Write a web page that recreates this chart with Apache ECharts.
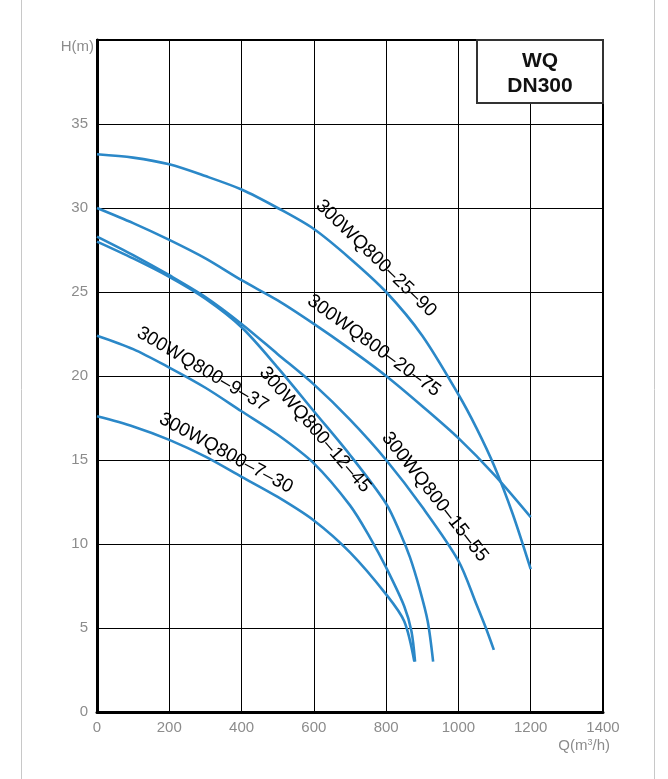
<!DOCTYPE html>
<html><head><meta charset="utf-8">
<script src="https://cdn.jsdelivr.net/npm/echarts@6/dist/echarts.min.js"></script>
<style>html,body{margin:0;padding:0;background:#fff}#c{width:668px;height:779px}</style>
</head><body><div id="c"></div>
<script>
// ---- data ----
const xTicks = [0, 200, 400, 600, 800, 1000, 1200, 1400];
const yTicks = [0, 5, 10, 15, 20, 25, 30, 35];

const names = ['300WQ800–25–90', '300WQ800–20–75', '300WQ800–15–55', '300WQ800–12–45', '300WQ800–9–37', '300WQ800–7–30'];

const q_25_90 = [0, 100, 200, 300, 400, 500, 600, 700, 800, 900, 1000, 1050, 1100, 1150, 1200];
const h_25_90 = [33.2, 33.0, 32.6, 31.9, 31.1, 30.0, 28.75, 27.0, 25.0, 22.4, 18.9, 16.9, 14.6, 11.8, 8.5];

const q_20_75 = [0, 100, 200, 300, 400, 500, 600, 700, 800, 900, 1000, 1100, 1200];
const h_20_75 = [30.0, 29.1, 28.1, 27.0, 25.7, 24.5, 23.1, 21.6, 20.0, 18.2, 16.3, 14.1, 11.6];

const q_15_55 = [0, 100, 200, 300, 400, 500, 600, 700, 800, 900, 1000, 1050, 1076, 1098];
const h_15_55 = [28.3, 27.2, 26.0, 24.7, 23.1, 21.3, 19.5, 17.4, 15.0, 12.2, 9.0, 6.4, 5.0, 3.7];

const q_12_45 = [0, 100, 200, 300, 400, 500, 600, 700, 800, 840, 866, 893, 915, 930];
const h_12_45 = [28.0, 27.0, 25.9, 24.6, 22.9, 20.5, 17.9, 15.3, 12.4, 10.6, 9.2, 7.3, 5.4, 3.0];

const q_9_37 = [0, 100, 200, 300, 400, 500, 600, 700, 755, 800, 850, 870, 880];
const h_9_37 = [22.4, 21.6, 20.5, 19.3, 17.9, 16.5, 14.8, 12.3, 10.4, 8.6, 6.3, 4.8, 3.0];

const q_7_30 = [0, 100, 200, 300, 400, 500, 600, 700, 800, 850, 878];
const h_7_30 = [17.6, 17.0, 16.2, 15.2, 14.0, 12.8, 11.4, 9.5, 7.0, 5.4, 3.0];

// label anchors [Q, H] and angle (deg)
const labelAnchors = [[772, 27.0], [766, 21.8], [935, 12.8], [603, 16.8], [292, 20.4], [357, 15.4]];
const labelAngles = [44, 36, 51.6, 49, 30.5, 28.5];

const curves = [[q_25_90, h_25_90], [q_20_75, h_20_75], [q_15_55, h_15_55], [q_12_45, h_12_45], [q_9_37, h_9_37], [q_7_30, h_7_30]];

// ---- chart ----
const chart = echarts.init(document.getElementById('c'));
const gray = '#8c8c8c';
const font = 'Liberation Sans, Arial, sans-serif';

chart.setOption({
  animation: false,
  grid: { left: 97, right: 65, top: 40, bottom: 67, show: true, borderColor: '#000', borderWidth: 2, backgroundColor: 'transparent' },
  xAxis: {
    type: 'value', min: 0, max: 1400, interval: 200,
    axisLine: { show: true, lineStyle: { color: '#000', width: 3 } },
    axisTick: { show: false },
    axisLabel: { color: gray, fontSize: 15, fontFamily: font, margin: 8, formatter: v => xTicks.includes(v) ? String(v) : '' },
    splitLine: { show: true, lineStyle: { color: '#000', width: 1 } }
  },
  yAxis: {
    type: 'value', min: 0, max: 40, interval: 5,
    axisLine: { show: true, lineStyle: { color: '#000', width: 3 } },
    axisTick: { show: false },
    axisLabel: { color: gray, fontSize: 15, fontFamily: font, margin: 9, formatter: v => yTicks.includes(v) ? String(v) : '' },
    splitLine: { show: true, lineStyle: { color: '#000', width: 1 } }
  },
  series: curves.map((c, i) => ({
    type: 'line', name: names[i], smooth: 0.3, showSymbol: false, symbol: 'none',
    lineStyle: { color: '#2b88c8', width: 2.6 },
    data: c[0].map((q, j) => [q, c[1][j]]),
    z: 3
  }))
});

const graphics = [
  { type: 'line', shape: { x1: 21.5, y1: 0, x2: 21.5, y2: 779 }, style: { stroke: '#c8c8c8', lineWidth: 1 } },
  { type: 'line', shape: { x1: 654.5, y1: 0, x2: 654.5, y2: 779 }, style: { stroke: '#c8c8c8', lineWidth: 1 } },
  { type: 'rect', shape: { x: 477, y: 40, width: 126, height: 63 }, style: { fill: '#fff', stroke: '#333', lineWidth: 2 }, z: 10 },
  { type: 'text', x: 540, y: 61, style: { text: 'WQ', font: 'bold 21px ' + font, fill: '#111', align: 'center', verticalAlign: 'middle' }, z: 11 },
  { type: 'text', x: 540, y: 86, style: { text: 'DN300', font: 'bold 21px ' + font, fill: '#111', align: 'center', verticalAlign: 'middle' }, z: 11 },
  { type: 'text', x: 94, y: 47, style: { text: 'H(m)', font: '15px ' + font, fill: gray, align: 'right', verticalAlign: 'middle' } },
  { type: 'text', x: 610, y: 746, style: { rich: { a: { font: '15px ' + font, fill: gray }, s: { font: '9px ' + font, fill: gray, verticalAlign: 'top', padding: [0, 0, 6, 0] } }, text: '{a|Q(m}{s|3}{a|/h)}', align: 'right', verticalAlign: 'middle' } }
];
labelAnchors.forEach((a, i) => {
  const p = chart.convertToPixel({ gridIndex: 0 }, a);
  graphics.push({
    type: 'text', x: p[0], y: p[1], rotation: -labelAngles[i] * Math.PI / 180,
    style: { text: names[i], font: '19px ' + font, fill: '#000', align: 'center', verticalAlign: 'middle' }, z: 12
  });
});
chart.setOption({ graphic: graphics });
</script>
</body></html>
